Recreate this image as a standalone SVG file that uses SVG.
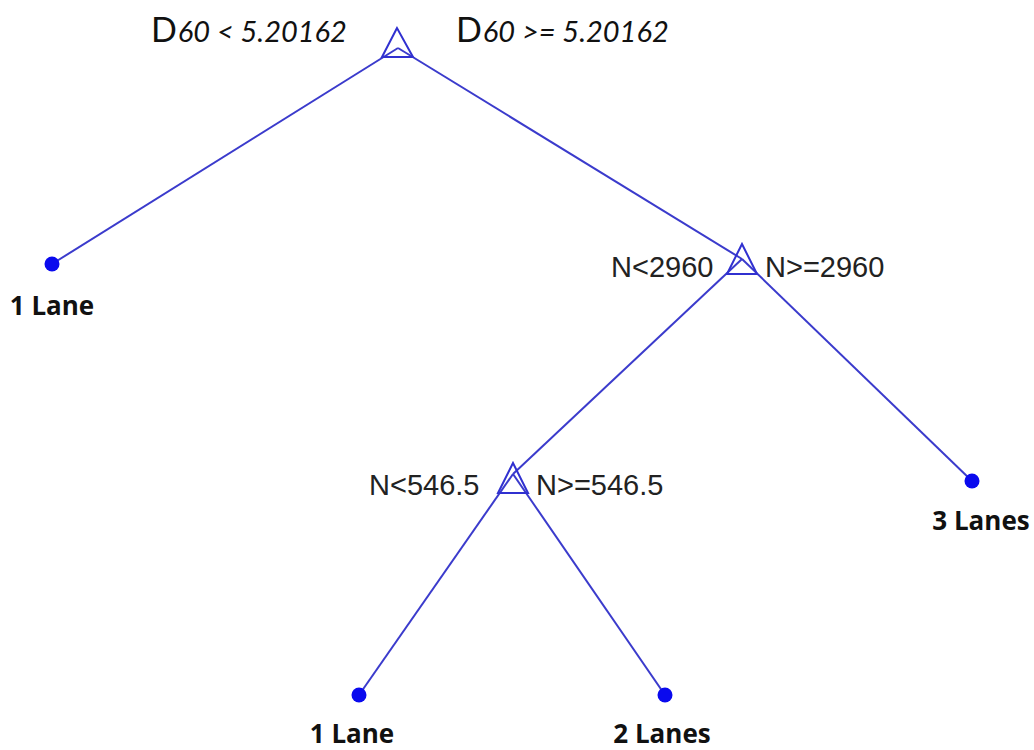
<svg xmlns="http://www.w3.org/2000/svg" width="1034" height="750" viewBox="0 0 1034 750">
  <style>
    .edge { stroke: #3b3bcc; stroke-width: 2; fill: none; }
    .split { stroke: #3030d0; stroke-width: 2; fill: none; stroke-linejoin: miter; }
    .leaf { fill: #0a0aee; }
    .cond { font-family: "Liberation Sans", Arial, sans-serif; font-size: 29px; fill: #222; }
    .rootcond { font-family: Lato, "Open Sans", sans-serif; fill: #111; }
    .rootcond .sub { font-style: italic; font-size: 29px; }
    .cls { font-family: "Open Sans", Lato, sans-serif; font-weight: bold; font-size: 26px; fill: #111; text-anchor: middle; }
  </style>
  <rect width="1034" height="750" fill="#ffffff"/>

  <!-- tree edges, drawn between node anchor points -->
  <g id="connectors">
    <line class="edge" x1="398" y1="48" x2="52" y2="264"/>
    <line class="edge" x1="398" y1="48" x2="742" y2="259"/>
    <line class="edge" x1="742" y1="259" x2="972" y2="481"/>
    <line class="edge" x1="742" y1="259" x2="513" y2="474"/>
    <line class="edge" x1="513" y1="474" x2="359" y2="695"/>
    <line class="edge" x1="513" y1="474" x2="665" y2="695"/>
  </g>

  <!-- root split -->
  <g id="split-root">
    <polygon class="split" points="397,28 382,57 413,57"/>
    <text class="rootcond" x="151" y="42"><tspan font-size="34">D</tspan><tspan class="sub" dx="1">60 &lt; 5.20162</tspan></text>
    <text class="rootcond" x="456" y="42"><tspan font-size="34">D</tspan><tspan class="sub" dx="1">60 &gt;= 5.20162</tspan></text>
  </g>

  <!-- split on N at 2960 -->
  <g id="split-n2960">
    <polygon class="split" points="742,244 727,274 757,274"/>
    <text class="cond" x="611" y="277">N&lt;2960</text>
    <text class="cond" x="765" y="277">N&gt;=2960</text>
  </g>

  <!-- split on N at 546.5 -->
  <g id="split-n546">
    <polygon class="split" points="513,463 498,493 528,493"/>
    <text class="cond" x="369" y="495">N&lt;546.5</text>
    <text class="cond" x="536" y="495">N&gt;=546.5</text>
  </g>

  <!-- leaves -->
  <g id="leaf-1lane-a">
    <circle class="leaf" cx="52" cy="264" r="7.5"/>
    <text class="cls" x="52" y="315">1 Lane</text>
  </g>
  <g id="leaf-3lanes">
    <circle class="leaf" cx="972" cy="481" r="7.5"/>
    <text class="cls" x="981" y="530">3 Lanes</text>
  </g>
  <g id="leaf-1lane-b">
    <circle class="leaf" cx="359" cy="695" r="7.5"/>
    <text class="cls" x="352" y="743">1 Lane</text>
  </g>
  <g id="leaf-2lanes">
    <circle class="leaf" cx="665" cy="695" r="7.5"/>
    <text class="cls" x="662" y="743">2 Lanes</text>
  </g>
</svg>
